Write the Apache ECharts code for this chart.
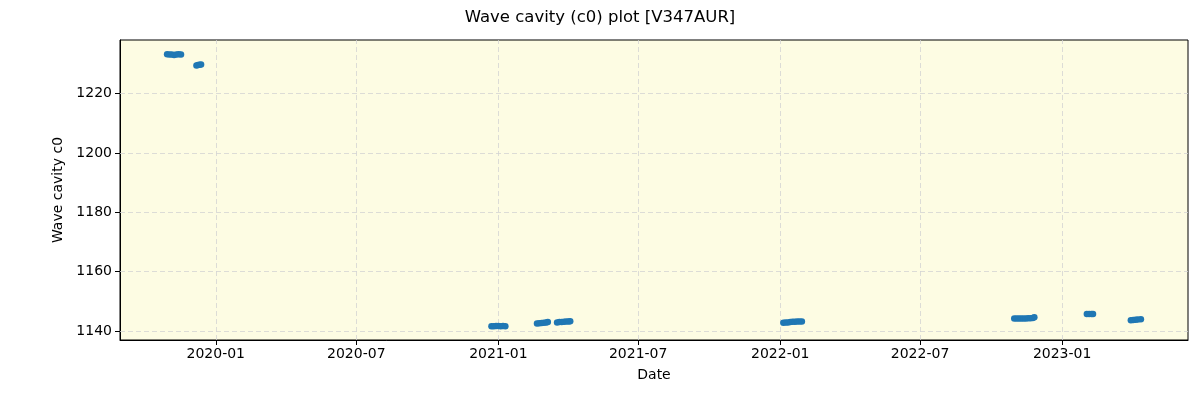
<!DOCTYPE html>
<html><head><meta charset="utf-8">
<script src="https://cdn.jsdelivr.net/npm/echarts@6/dist/echarts.min.js"></script>
<style>html,body{margin:0;padding:0;background:#fff}#c{width:1200px;height:400px}</style>
</head><body><div id="c"></div>
<script>
const dates = [
 '2019-10-30','2019-11-02','2019-11-05','2019-11-08','2019-11-11','2019-11-14','2019-11-17',
 '2019-12-07','2019-12-09','2019-12-11','2019-12-13',
 '2020-12-23','2020-12-26','2020-12-29','2021-01-01','2021-01-04','2021-01-07','2021-01-10',
 '2021-02-20','2021-02-23','2021-02-26','2021-03-01','2021-03-04','2021-03-06',
 '2021-03-18','2021-03-21','2021-03-24','2021-03-27','2021-03-30','2021-04-02','2021-04-04',
 '2022-01-05','2022-01-08','2022-01-11','2022-01-14','2022-01-17','2022-01-20','2022-01-23','2022-01-26','2022-01-29',
 '2022-10-31','2022-11-03','2022-11-06','2022-11-09','2022-11-12','2022-11-15','2022-11-18','2022-11-21','2022-11-24','2022-11-26',
 '2023-02-02','2023-02-05','2023-02-08','2023-02-10',
 '2023-03-31','2023-04-03','2023-04-06','2023-04-09','2023-04-13'
];
const values = [
 1233.2,1233.1,1233.1,1233.0,1233.1,1233.2,1233.1,
 1229.4,1229.6,1229.7,1229.8,
 1141.6,1141.6,1141.7,1141.7,1141.6,1141.7,1141.6,
 1142.5,1142.6,1142.7,1142.8,1142.9,1143.0,
 1142.9,1143.0,1143.0,1143.1,1143.2,1143.2,1143.3,
 1142.8,1142.9,1142.9,1143.0,1143.1,1143.1,1143.2,1143.2,1143.2,
 1144.2,1144.2,1144.2,1144.2,1144.2,1144.2,1144.3,1144.3,1144.4,1144.6,
 1145.7,1145.7,1145.7,1145.7,
 1143.6,1143.7,1143.8,1143.9,1144.0
];
const xTickLabels = ['2020-01','2020-07','2021-01','2021-07','2022-01','2022-07','2023-01'];
const yTicks = [1140,1160,1180,1200,1220];
const xRange = ['2019-08-30','2023-06-13'];
const yRange = [1136.97,1238.02];

const ts = s => { const p = s.split('-').map(Number); return Date.UTC(p[0], p[1]-1, p[2] || 1); };
const xTicks = xTickLabels.map(ts);
const data = dates.map((d,i)=>[ts(d), values[i]]);
const fmt = v => { const d = new Date(v); return d.getUTCFullYear() + '-' + String(d.getUTCMonth()+1).padStart(2,'0'); };
const font = 'DejaVu Sans';
const gridLine = {color:'#d3d3d3', type:[5,3], width:0.8};

const chart = echarts.init(document.getElementById('c'), null, {renderer:'canvas'});
chart.setOption({
  animation:false,
  backgroundColor:'#ffffff',
  title:{text:'Wave cavity (c0) plot [V347AUR]', left:'center', top:4,
    textStyle:{fontFamily:font, fontSize:16.5, fontWeight:'normal', color:'#000'}},
  grid:{left:120, right:12, top:40, bottom:60, show:true, backgroundColor:'#fdfce3', borderColor:'#000', borderWidth:1},
  xAxis:{type:'value', min:ts(xRange[0]), max:ts(xRange[1]), scale:true,
    name:'Date', nameLocation:'middle', nameGap:28,
    nameTextStyle:{fontFamily:font, fontSize:14, color:'#000'},
    axisLine:{show:true, onZero:false, lineStyle:{color:'#000'}},
    axisTick:{show:true, length:5, lineStyle:{color:'#000'}, customValues:xTicks},
    axisLabel:{fontFamily:font, fontSize:14, color:'#000', margin:7, customValues:xTicks, formatter:fmt, hideOverlap:false},
    splitLine:{show:false}},
  yAxis:{type:'value', min:yRange[0], max:yRange[1], scale:true,
    name:'Wave cavity c0', nameLocation:'middle', nameGap:52, nameRotate:90,
    nameTextStyle:{fontFamily:font, fontSize:14, color:'#000'},
    axisLine:{show:true, onZero:false, lineStyle:{color:'#000'}},
    axisTick:{show:true, length:5, lineStyle:{color:'#000'}, customValues:yTicks},
    axisLabel:{fontFamily:font, fontSize:14, color:'#000', margin:8, customValues:yTicks, formatter:v=>String(v)},
    splitLine:{show:false}},
  series:[{
    type:'scatter', data:data, symbol:'circle', symbolSize:6.5,
    itemStyle:{color:'#1f77b4', opacity:1}, z:5,
    markLine:{silent:true, symbol:'none', label:{show:false}, lineStyle:gridLine, z:1,
      data: xTicks.map(t=>({xAxis:t})).concat(yTicks.map(v=>({yAxis:v})))}
  }]
});
</script></body></html>
